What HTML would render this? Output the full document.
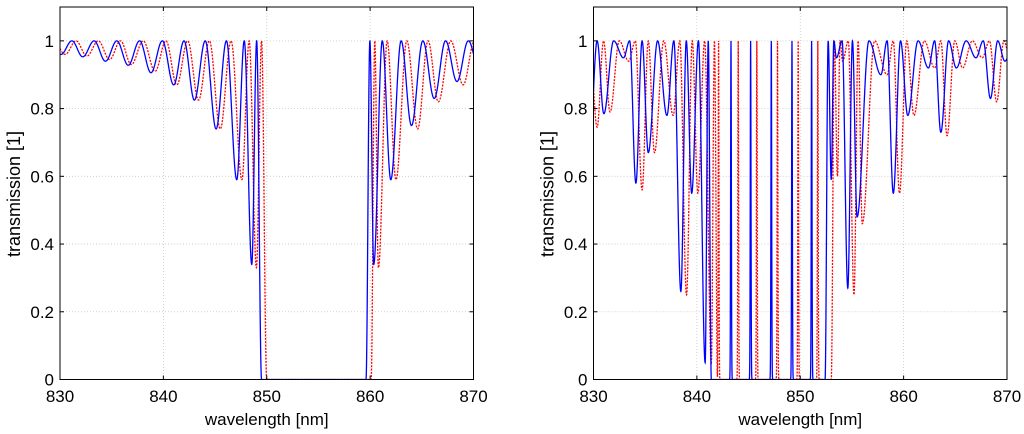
<!DOCTYPE html>
<html><head><meta charset="utf-8">
<style>
html,body{margin:0;padding:0;background:#fff;}
svg{display:block;font-family:"Liberation Sans",Arial,sans-serif;}
</style></head>
<body>
<svg id="chart" width="1024" height="434" viewBox="0 0 1024 434"></svg>
<script>
// ---- data ----
const xTicks = [830, 840, 850, 860, 870];
const yTicks = [0, 0.2, 0.4, 0.6, 0.8, 1];
const yTickLabels = ["0", "0.2", "0.4", "0.6", "0.8", "1"];
// dips: [center nm, minimum transmission]
const leftBlueDips = [[828.0,0.965],[830.1,0.96],[832.2,0.953],[834.4,0.94],[836.6,0.928],[838.8,0.906],[841.0,0.87],[843.0,0.825],[845.1,0.74],[847.1,0.59],[848.55,0.34],[860.35,0.34],[862.0,0.59],[864.0,0.75],[866.2,0.83],[868.4,0.88],[870.6,0.91]];
const leftRedDips = [[828.3,0.965],[830.5,0.96],[832.6,0.955],[834.8,0.945],[836.9,0.93],[839.2,0.91],[841.3,0.87],[843.4,0.825],[845.5,0.74],[847.6,0.59],[849.0,0.33],[860.8,0.33],[862.5,0.59],[864.6,0.74],[866.6,0.82],[869.0,0.87],[871.2,0.9]];
const leftBlueBand = [849.5, 859.6];
const leftRedBand = [850.0, 860.1];
const leftBluePeaks = [];
const leftRedPeaks = [];

const rightBlueDips = [[829.7,0.74],[831.0,0.785],[832.9,0.95],[834.1,0.58],[835.3,0.67],[837.1,0.78],[838.45,0.26],[839.5,0.55],[840.8,0.05],[853.0,0.59],[853.5,0.95],[854.6,0.27],[855.5,0.48],[857.8,0.9],[859.0,0.55],[860.4,0.78],[862.4,0.92],[863.6,0.73],[865.1,0.92],[867.0,0.95],[868.4,0.83],[869.8,0.94],[871.5,0.9]];
const rightRedDips = [[828.9,0.8],[830.35,0.745],[831.6,0.79],[833.4,0.94],[834.7,0.56],[835.9,0.67],[837.7,0.78],[839.0,0.25],[840.1,0.55],[841.4,0.05],[853.6,0.6],[854.1,0.94],[855.2,0.25],[856.0,0.46],[858.4,0.9],[859.6,0.55],[861.0,0.78],[863.0,0.92],[864.2,0.72],[865.7,0.92],[867.6,0.95],[869.0,0.82],[870.4,0.93],[872.0,0.9]];
const rightBlueBand = [841.4, 852.4];
const rightRedBand = [842.0, 853.0];
const rightBluePeaks = [843.3, 845.2, 847.2, 849.2, 851.1];
const rightRedPeaks = [842.1, 844.0, 845.8, 847.8, 849.8, 851.7];

// ---- layout ----
const NS = "http://www.w3.org/2000/svg";
const svg = document.getElementById("chart");
function mk(tag, attrs, parent){const e=document.createElementNS(NS,tag);for(const k in attrs)e.setAttribute(k,attrs[k]);(parent||svg).appendChild(e);return e;}

function trans(l, dips, band, peaks){
  const list = dips.concat([[band[0],0],[band[1],0]]).sort((a,b)=>a[0]-b[0]);
  let t = 1;
  if (l > band[0] && l < band[1]) t = 0;
  else {
    let i = 0;
    while (i < list.length-2 && list[i+1][0] <= l) i++;
    const a = list[i], b = list[i+1];
    const mid = (a[0]+b[0])/2;
    const d = (l < mid) ? a : b;
    const half = mid - a[0];
    const r = Math.min(1, Math.abs(l-d[0])/half);
    t = 1-(1-d[1])*(0.5+0.5*Math.cos(Math.PI*r));
  }
  for (const p of peaks){ const z=(l-p)/0.05; t = Math.max(t, Math.exp(-z*z)); }
  return t;
}

function panel(x0, name, series){
  const x1 = x0 + 413.5, yTop = 7, yBot = 379.5;
  const xs = v => x0 + (v-830)/40*(x1-x0);
  const ys = v => yBot - v/1.1*(yBot-yTop);
  const g = mk("g", {});
  
  
  for (const v of xTicks.slice(1,-1)){
    const l = mk("line",{x1:xs(v),x2:xs(v),y1:yTop,y2:yBot,stroke:"#c8c8c8","stroke-width":0.8,"stroke-dasharray":"1,2"},g);
    
    
  }
  yTicks.forEach(v=>{ if(v>0){
    const l = mk("line",{x1:x0,x2:x1,y1:ys(v),y2:ys(v),stroke:"#c8c8c8","stroke-width":0.8,"stroke-dasharray":"1,2"},g);
    
    
  }});
  const clipId = "clip"+name;
  const cp = mk("clipPath",{id:clipId},g); mk("rect",{x:x0,y:yTop,width:x1-x0,height:yBot-yTop},cp);
  series.forEach(s=>{
    let d="";
    for(let l=830;l<=870.0001;l+=0.01){
      const t=trans(l,s.dips,s.band,s.peaks);
      d += (d?"L":"M")+xs(l).toFixed(2)+","+ys(t).toFixed(2);
    }
    const p = mk("path",{d:d,fill:"none",stroke:s.color,"stroke-width":1.3,"clip-path":"url(#"+clipId+")"},g);
    if(s.dash) p.setAttribute("stroke-dasharray",s.dash);
    
    
  });
  const box = mk("rect",{x:x0,y:yTop,width:x1-x0,height:yBot-yTop,fill:"none",stroke:"#000","stroke-width":1},g);
  
  
  xTicks.forEach(v=>{
    mk("line",{x1:xs(v),x2:xs(v),y1:yBot,y2:yBot-4,stroke:"#000"},g);
    mk("line",{x1:xs(v),x2:xs(v),y1:yTop,y2:yTop+4,stroke:"#000"},g);
    const t = mk("text",{x:xs(v),y:402,"font-size":17,"text-anchor":"middle"},g);
    t.textContent = v;
    
    
  });
  yTicks.forEach((v,i)=>{
    mk("line",{x1:x0,x2:x0+4,y1:ys(v),y2:ys(v),stroke:"#000"},g);
    mk("line",{x1:x1,x2:x1-4,y1:ys(v),y2:ys(v),stroke:"#000"},g);
    const t = mk("text",{x:x0-6,y:ys(v)+6,"font-size":17,"text-anchor":"end"},g);
    t.textContent = yTickLabels[i];
    
    
  });
  const xl = mk("text",{x:(x0+x1)/2,y:425,"font-size":17,"text-anchor":"middle"},g);
  xl.textContent = "wavelength [nm]";
  
  
  const yl = mk("text",{x:0,y:0,"font-size":18,"text-anchor":"middle",transform:"translate("+(x0-40)+",194) rotate(-90)"},g);
  yl.textContent = "transmission [1]";
  
  
}

panel(60, "left-panel", [
  {name:"left-red-series",color:"#ff0000",dash:"2,1.3",dips:leftRedDips,band:leftRedBand,peaks:leftRedPeaks},
  {name:"left-blue-series",color:"#0000ff",dips:leftBlueDips,band:leftBlueBand,peaks:leftBluePeaks}
]);
panel(593.5, "right-panel", [
  {name:"right-red-series",color:"#ff0000",dash:"2,1.3",dips:rightRedDips,band:rightRedBand,peaks:rightRedPeaks},
  {name:"right-blue-series",color:"#0000ff",dips:rightBlueDips,band:rightBlueBand,peaks:rightBluePeaks}
]);
</script>
</body></html>
